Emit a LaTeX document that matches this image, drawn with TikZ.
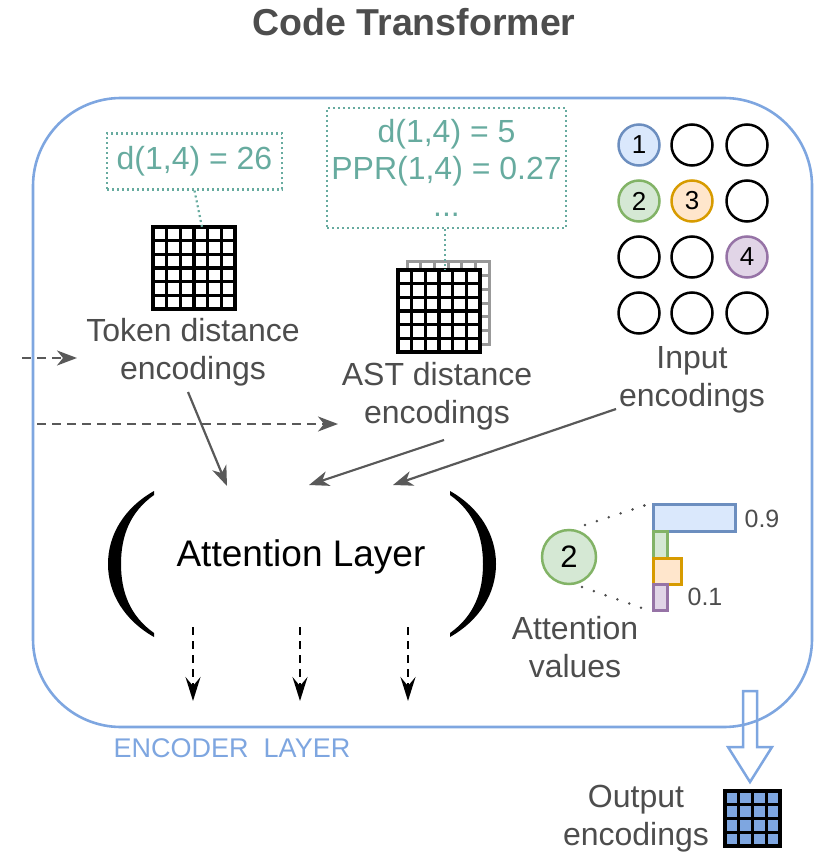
\documentclass[tikz,border=0pt]{standalone}
\usepackage{fontspec}
\setmainfont{Liberation Sans}
\usetikzlibrary{arrows.meta}
\definecolor{blueline}{HTML}{7EA6E0}
\definecolor{tealc}{HTML}{67AB9F}
\definecolor{txt}{HTML}{4D4D4D}
\definecolor{arr}{HTML}{595959}
\definecolor{bluef}{HTML}{DAE8FC}\definecolor{blued}{HTML}{6C8EBF}
\definecolor{greenf}{HTML}{D5E8D4}\definecolor{greend}{HTML}{82B366}
\definecolor{orangef}{HTML}{FFE6CC}\definecolor{oranged}{HTML}{D79B00}
\definecolor{purplef}{HTML}{E1D5E7}\definecolor{purpled}{HTML}{9673A6}
\newcommand{\encgrid}[6]{%
  \fill[#6] (#1,#2) rectangle ++(#3,#3);
  \foreach \i in {0,...,#4}{%
    \draw[#5] ({#1+\i*#3/#4},#2) -- ++(0,#3);
    \draw[#5] (#1,{#2+\i*#3/#4}) -- ++(#3,0);}%
}
\begin{document}
\begin{tikzpicture}[x=1pt,y=-1pt,
  lbl/.style={text=txt, align=center, font=\fontsize{32}{38}\selectfont, inner sep=0},
  tealbox/.style={draw=tealc, line width=2.2pt, dash pattern=on 2pt off 3pt, text=tealc, align=center, font=\fontsize{32}{37}\selectfont, inner sep=0},
  tealdot/.style={draw=tealc, line width=2.2pt, dash pattern=on 2pt off 3pt},
  grayarrow/.style={draw=arr, line width=2.2pt, -{Stealth[length=20pt,width=15pt,inset=6pt]}},
  graydash/.style={grayarrow, dash pattern=on 9pt off 6pt},
  blackdash/.style={draw=black, line width=2.5pt, dash pattern=on 8pt off 6pt, -{Stealth[length=24pt,width=15pt,inset=9pt]}},
  circ/.style={circle, draw=black, line width=2.5pt, minimum size=41pt, inner sep=0, font=\fontsize{26}{26}\selectfont},
  bar/.style={line width=2.5pt, anchor=north west, inner sep=0},
  gridline/.style={draw=black, line width=3.2pt, line cap=rect},
  paren/.style={fill=black}
]
\useasboundingbox (0,0) rectangle (830,858);

% title
\node[text=txt, font=\fontsize{37.5}{40}\selectfont\bfseries] (title) at (414,22) {Code Transformer};

% encoder layer frame
\node[draw=blueline, line width=2.6pt, rounded corners=88pt, minimum width=779pt, minimum height=629pt, inner sep=0] (enc) at (422.5,412.5) {};
\node[text=blueline, font=\fontsize{27}{30}\selectfont, inner sep=0] (enclabel) at (232,748) {ENCODER\ \ LAYER};

% token distance
\node[tealbox, minimum width=175pt, minimum height=56pt] (tokbox) at (194.5,161.5) {d(1,4) = 26};
\node[minimum size=82pt, inner sep=0] (tokgrid) at (194,268) {};
\encgrid{153}{227}{82}{6}{gridline}{white}
\coordinate (tokgridtop) at (202,227);
\draw[tealdot] (tokbox.south) -- (tokgridtop);
\node[lbl] (toklabel) at (193,352) {Token distance\\encodings};

% AST distance
\node[tealbox, minimum width=239pt, minimum height=120pt] (astbox) at (446.5,168) {d(1,4) = 5\\PPR(1,4) = 0.27\\...};
\encgrid{407}{262}{82}{6}{draw=gray!80, line width=3pt, line cap=rect}{white}
\encgrid{398}{270}{82}{6}{gridline}{white}
\node[minimum size=82pt, inner sep=0] (astgrid) at (439,311) {};
\coordinate (astgridtop) at (445,270);
\draw[tealdot] (astbox.south -| astgridtop) -- (astgridtop);
\node[lbl] (astlabel) at (437,396) {AST distance\\encodings};

% input encodings
\node[circ, fill=bluef, draw=blued] (c11) at (639,145) {1};
\node[circ] (c12) at (692,145) {};
\node[circ] (c13) at (747,145) {};
\node[circ, fill=greenf, draw=greend] (c21) at (639,201) {2};
\node[circ, fill=orangef, draw=oranged] (c22) at (692,201) {3};
\node[circ] (c23) at (747,201) {};
\node[circ] (c31) at (639,257) {};
\node[circ] (c32) at (692,257) {};
\node[circ, fill=purplef, draw=purpled] (c33) at (747,257) {4};
\node[circ] (c41) at (639,313) {};
\node[circ] (c42) at (692,313) {};
\node[circ] (c43) at (747,313) {};
\node[lbl] (inlabel) at (692,380) {Input\\encodings};

% attention layer
\node[text=black, font=\fontsize{37}{40}\selectfont, inner sep=0] (att) at (301,557) {Attention Layer};
\fill[paren] (154,491) .. controls (124,508) and (108,535) .. (108,564) .. controls (108,593) and (124,620) .. (154,637)
  -- (154,633) .. controls (130,616) and (121,592) .. (121,564) .. controls (121,536) and (130,512) .. (154,495) -- cycle;
\fill[paren] (450,491) .. controls (480,508) and (496,535) .. (496,564) .. controls (496,593) and (480,620) .. (450,637)
  -- (450,633) .. controls (474,616) and (483,592) .. (483,564) .. controls (483,536) and (474,512) .. (450,495) -- cycle;

% incoming arrows
\coordinate (in1s) at (22,358); \coordinate (in1e) at (77,358);
\draw[graydash] (in1s) -- (in1e);
\coordinate (in2s) at (37,424); \coordinate (in2e) at (338,424);
\draw[graydash] (in2s) -- (in2e);
\coordinate (tokend) at (227,486);
\draw[grayarrow] (188,392) -- (tokend);
\coordinate (astend) at (309,485); \coordinate (aststart) at (444,440);
\draw[grayarrow] (aststart) -- (astend);
\coordinate (inend) at (393,485); \coordinate (instart) at (616,409);
\draw[grayarrow] (instart) -- (inend);

% outgoing dashed arrows
\foreach \x/\n in {193/o1,300/o2,408/o3}{
  \coordinate (\n s) at (\x,627); \coordinate (\n e) at (\x,701);
  \draw[blackdash] (\n s) -- (\n e);
}

% attention values
\node[circle, draw=greend, fill=greenf, line width=2.5pt, minimum size=54pt, inner sep=0, font=\fontsize{31}{31}\selectfont] (av) at (569,557) {2};
\node[bar, draw=blued, fill=bluef, minimum width=82pt, minimum height=27pt] (b1) at (652,503) {};
\node[bar, draw=greend, fill=greenf, minimum width=14pt, minimum height=27pt] (b2) at (652,530) {};
\node[bar, draw=oranged, fill=orangef, minimum width=28pt, minimum height=26pt] (b3) at (652,557) {};
\node[bar, draw=purpled, fill=purplef, minimum width=14pt, minimum height=26pt] (b4) at (652,583) {};
\coordinate (dl1s) at (585,525); \coordinate (dl2s) at (582,587);
\draw[draw=txt, line width=2.8pt, line cap=round, dash pattern=on 0pt off 12.5pt] (dl1s) -- (b1.north west);
\draw[draw=txt, line width=2.8pt, line cap=round, dash pattern=on 0pt off 12.5pt] (dl2s) -- (b4.south west);
\node[text=txt, font=\fontsize{25}{28}\selectfont, inner sep=0] (v09) at (762,519) {0.9};
\node[text=txt, font=\fontsize{25}{28}\selectfont, inner sep=0] (v01) at (705,597) {0.1};
\node[lbl] (avlabel) at (575,647) {Attention\\values};

% output
\draw[blueline, line width=2.5pt, line join=miter] (743,691) -- (757,691) -- (757,747) -- (772,747) -- (750,782) -- (728,747) -- (743,747) -- cycle;
\node[minimum size=55pt, inner sep=0] (outgrid) at (752,818) {};
\encgrid{725}{791}{55}{4}{gridline}{blueline}
\node[lbl] (outlabel) at (636,819) {Output\\encodings};
\end{tikzpicture}
\end{document}
